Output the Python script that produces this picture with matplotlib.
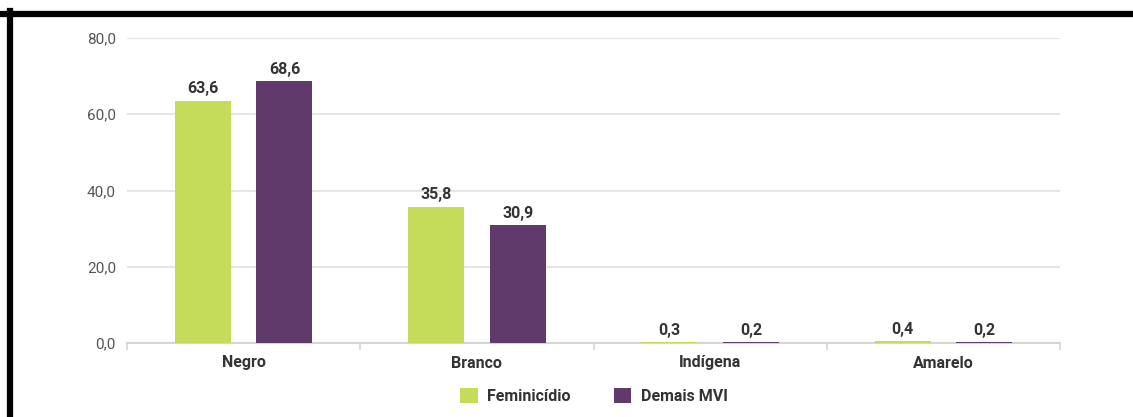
import matplotlib
matplotlib.use("Agg")
import matplotlib.pyplot as plt
from matplotlib.lines import Line2D
from matplotlib.patches import Patch
import numpy as np

categories = ["Negro", "Branco", "Indígena", "Amarelo"]
feminicidio = [63.6, 35.8, 0.3, 0.4]
demais_mvi = [68.6, 30.9, 0.2, 0.2]
series_names = ["Feminicídio", "Demais MVI"]
y_ticks = [0, 20, 40, 60, 80]

GREEN = "#c5dc5a"
PURPLE = "#5f3a6a"
FONT = ["Roboto", "DejaVu Sans"]
plt.rcParams["font.family"] = FONT

W, H = 1133, 417
fig = plt.figure(figsize=(W / 100, H / 100), dpi=100)
ax = fig.add_axes([127 / W, (H - 343) / H, (1060 - 127) / W, (343 - 38) / H])

x = np.arange(len(categories))
bw = 0.24
off = 0.175
b1 = ax.bar(x - off, feminicidio, bw, color=GREEN, zorder=3)
b2 = ax.bar(x + off, demais_mvi, bw, color=PURPLE, zorder=3)

def fmt(v):
    return f"{v:.1f}".replace(".", ",")

for bars, vals in ((b1, feminicidio), (b2, demais_mvi)):
    for r, v in zip(bars, vals):
        ax.annotate(fmt(v), (r.get_x() + r.get_width() / 2, v), xytext=(0, 3),
                    textcoords="offset points", ha="center", va="bottom",
                    fontsize=11.5, fontweight="bold", color="#333333")

ax.set_xlim(-0.5, len(categories) - 0.5)
ax.set_ylim(0, 80)
ax.set_yticks(y_ticks)
ax.set_yticklabels([fmt(v) for v in y_ticks], fontsize=11, color="#555555")
ax.yaxis.grid(True, color="#e6e6e6", linewidth=1.5, zorder=0)
ax.tick_params(axis="y", length=0, pad=8)
ax.set_xticks(x)
ax.set_xticklabels(categories, fontsize=11.5, fontweight="bold", color="#333333")
ax.set_xticks(np.arange(-0.5, len(categories)), minor=True)
ax.tick_params(axis="x", which="major", length=0, pad=9)
ax.tick_params(axis="x", which="minor", length=5, color="#d5d5d5", width=1.2)
for s in ("top", "right", "left"):
    ax.spines[s].set_visible(False)
ax.spines["bottom"].set_color("#d5d5d5")
ax.spines["bottom"].set_linewidth(1.5)
ax.set_axisbelow(True)

handles = [Patch(facecolor=GREEN, label=series_names[0]),
           Patch(facecolor=PURPLE, label=series_names[1])]
leg = fig.legend(handles=handles, loc="center", bbox_to_anchor=(594 / W, 1 - 396 / H),
                 ncol=2, frameon=False, fontsize=11.5, handlelength=1.1, handleheight=1.1,
                 columnspacing=2.7, handletextpad=0.6)
for t in leg.get_texts():
    t.set_color("#333333")
    t.set_fontweight("bold")

# black frame lines (top and left)
fig.add_artist(Line2D([0, 1], [1 - 14 / H, 1 - 14 / H], transform=fig.transFigure,
                      color="black", linewidth=4.5))
fig.add_artist(Line2D([10 / W, 10 / W], [0, 1 - 11 / H], transform=fig.transFigure,
                      color="black", linewidth=4.5))

fig.savefig("out.png", dpi=100)
